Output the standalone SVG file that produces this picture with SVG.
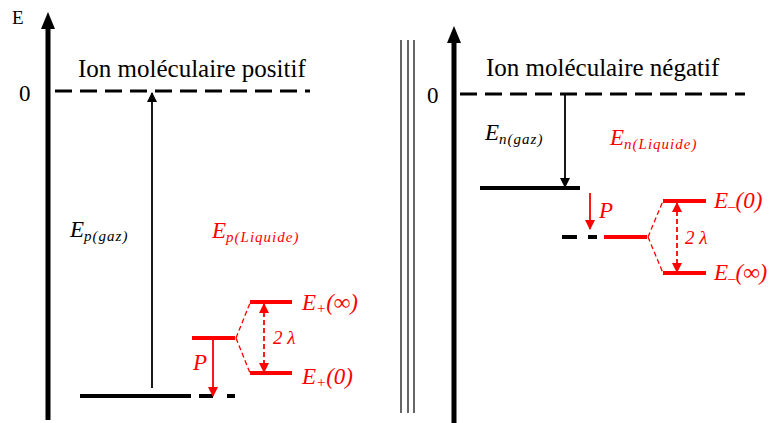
<svg xmlns="http://www.w3.org/2000/svg" width="774" height="423" viewBox="0 0 774 423">
<defs>
<marker id="ak" markerWidth="10" markerHeight="10" refX="9" refY="5" orient="auto" markerUnits="userSpaceOnUse"><path d="M0,0 L10,5 L0,10 z" fill="#000"/></marker>
<marker id="ar" markerWidth="10" markerHeight="10" refX="9" refY="5" orient="auto" markerUnits="userSpaceOnUse"><path d="M0,0 L10,5 L0,10 z" fill="#f00"/></marker>
<marker id="arb" markerWidth="10" markerHeight="10" refX="9" refY="5" orient="auto-start-reverse" markerUnits="userSpaceOnUse"><path d="M0,0 L10,5 L0,10 z" fill="#f00"/></marker>
</defs>

<g id="axis-left">
<path d="M48,420 L48,28" stroke="#000" stroke-width="5" fill="none"/>
<path d="M41,29 L48,12 L55,29 z" fill="#000"/>
<text font-family="Liberation Serif" fill="#000" x="12" y="24" font-size="19">E</text>
</g>
<g id="axis-right">
<path d="M454,423 L454,42" stroke="#000" stroke-width="5" fill="none"/>
<path d="M447,43 L454,26 L461,43 z" fill="#000"/>
</g>
<g id="separator" stroke="#333" stroke-width="1.5">
<line x1="401" y1="40" x2="401" y2="413"/>
<line x1="408" y1="40" x2="408" y2="413"/>
<line x1="414" y1="40" x2="414" y2="413"/>
</g>

<g id="zero-left">
<text font-family="Liberation Serif" fill="#000" x="19" y="101" font-size="23">0</text>
<path d="M55,91 L310,91" stroke="#000" stroke-width="3" stroke-dasharray="17 8" fill="none"/>
<text font-family="Liberation Serif" fill="#000" x="78" y="77" font-size="25">Ion moléculaire positif</text>
</g>
<g id="zero-right">
<text font-family="Liberation Serif" fill="#000" x="427" y="103" font-size="23">0</text>
<path d="M460,94 L745,94" stroke="#000" stroke-width="3" stroke-dasharray="17 8" fill="none"/>
<text font-family="Liberation Serif" fill="#000" x="486" y="76" font-size="25">Ion moléculaire négatif</text>
</g>

<g id="positive-gas">
<path d="M80,396 L191,396 M199,396 L213,396 M227,396 L235,396" stroke="#000" stroke-width="4" fill="none"/>
<text font-family="Liberation Serif" font-style="italic" fill="#000" x="70" y="237" font-size="23">E<tspan font-size="15" dy="4" letter-spacing="1">p(gaz)</tspan></text>
</g>
<g id="positive-liquid">
<path d="M192,338 L235,338 M250,302 L292,302 M250,373 L292,373" stroke="#f00" stroke-width="4" fill="none"/>
<path d="M236,338 L250,303 M236,338 L250,373" stroke="#f00" stroke-width="1.3" stroke-dasharray="5 3" fill="none"/>
<text font-family="Liberation Serif" font-style="italic" fill="#f00" x="212" y="238" font-size="23">E<tspan font-size="15" dy="4" letter-spacing="1">p(Liquide)</tspan></text>
<text font-family="Liberation Serif" font-style="italic" fill="#f00" x="302" y="310" font-size="23">E<tspan font-size="15" dy="3">+</tspan><tspan dy="-3">(∞)</tspan></text>
<text font-family="Liberation Serif" font-style="italic" fill="#f00" x="302" y="384" font-size="23">E<tspan font-size="15" dy="3">+</tspan><tspan dy="-3">(0)</tspan></text>
<text font-family="Liberation Serif" font-style="italic" fill="#f00" x="273" y="344" font-size="19">2 λ</text>
<text font-family="Liberation Serif" font-style="italic" fill="#f00" x="193" y="370" font-size="23">P</text>
</g>

<g id="negative-gas">
<path d="M480,188 L580,188 M562,237 L577,237 M588,237 L597,237" stroke="#000" stroke-width="4" fill="none"/>
<text font-family="Liberation Serif" font-style="italic" fill="#000" x="485" y="140" font-size="23">E<tspan font-size="15" dy="4" letter-spacing="1">n(gaz)</tspan></text>
</g>
<g id="negative-liquid">
<path d="M604,237 L647,237 M663,201 L706,201 M663,273 L706,273" stroke="#f00" stroke-width="4" fill="none"/>
<path d="M648,237 L663,201 M648,237 L663,273" stroke="#f00" stroke-width="1.3" stroke-dasharray="5 3" fill="none"/>
<text font-family="Liberation Serif" font-style="italic" fill="#f00" x="610" y="145" font-size="23">E<tspan font-size="15" dy="4" letter-spacing="1">n(Liquide)</tspan></text>
<text font-family="Liberation Serif" font-style="italic" fill="#f00" x="714" y="208" font-size="23">E<tspan font-size="15" dy="3">–</tspan><tspan dy="-3">(0)</tspan></text>
<text font-family="Liberation Serif" font-style="italic" fill="#f00" x="714" y="280" font-size="23">E<tspan font-size="15" dy="3">–</tspan><tspan dy="-3">(∞)</tspan></text>
<text font-family="Liberation Serif" font-style="italic" fill="#f00" x="685" y="244" font-size="19">2 λ</text>
<text font-family="Liberation Serif" font-style="italic" fill="#f00" x="599" y="218" font-size="23">P</text>
</g>

<g id="connectors" fill="none">
<path d="M152,388 L152,93" stroke="#000" stroke-width="1.8" marker-end="url(#ak)"/>
<path d="M213,339 L213,396" stroke="#f00" stroke-width="1.8" marker-end="url(#ar)"/>
<path d="M264,304 L264,372" stroke="#f00" stroke-width="1.8" stroke-dasharray="5 3" marker-start="url(#arb)" marker-end="url(#arb)"/>
<path d="M565,95 L565,187" stroke="#000" stroke-width="1.8" marker-end="url(#ak)"/>
<path d="M590,193 L590,229" stroke="#f00" stroke-width="1.8" marker-end="url(#ar)"/>
<path d="M677,203 L677,272" stroke="#f00" stroke-width="1.8" stroke-dasharray="5 3" marker-start="url(#arb)" marker-end="url(#arb)"/>
</g>
</svg>
